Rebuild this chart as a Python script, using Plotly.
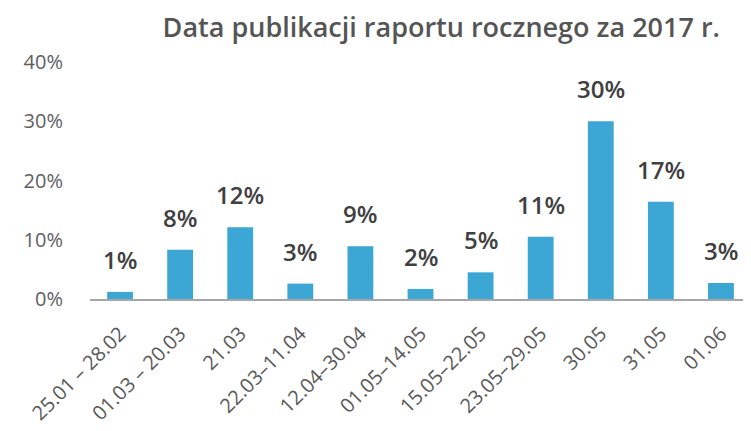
import plotly.graph_objects as go

categories = ["25.01 – 28.02", "01.03 – 20.03", "21.03", "22.03–11.04", "12.04–30.04",
              "01.05–14.05", "15.05–22.05", "23.05–29.05", "30.05", "31.05", "01.06"]
values = [1.2, 8.3, 12.1, 2.6, 8.9, 1.7, 4.5, 10.5, 30.0, 16.4, 2.7]
labels = ["1%", "8%", "12%", "3%", "9%", "2%", "5%", "11%", "30%", "17%", "3%"]
y_tickvals = [0, 10, 20, 30, 40]
y_ticktext = ["0%", "10%", "20%", "30%", "40%"]
title_text = "Data publikacji raportu rocznego za 2017 r."

FONT = "Open Sans"
W, H = 743, 423  # page has an 8px body margin

fig = go.Figure()
fig.add_trace(go.Bar(
    x=list(range(len(categories))), y=values,
    marker=dict(color="#3ca6d5", line=dict(width=0)),
    hoverinfo="skip",
))

for i, (v, t) in enumerate(zip(values, labels)):
    fig.add_annotation(x=i, y=v, text=t, showarrow=False, yanchor="bottom",
                       yshift=14, font=dict(family=FONT, size=24, color="#404040", weight=600))

fig.update_layout(
    width=W, height=H,
    margin=dict(l=82, r=0, t=54, b=132),
    paper_bgcolor="white", plot_bgcolor="white",
    showlegend=False,
    bargap=0.57,
    title=dict(text=title_text, xref="container", yref="container",
               x=712/W, xanchor="right", y=1-20/H, yanchor="middle",
               font=dict(family=FONT, size=27, color="#555555", weight=600)),
    xaxis=dict(range=[-0.5, 10.5], tickangle=-45,
               tickvals=list(range(len(categories))), ticktext=categories,
               showline=True, linecolor="#a6a6a6", linewidth=2,
               ticks="", showgrid=False, zeroline=False, automargin=False,
               ticklabelstandoff=13,
               tickfont=dict(family=FONT, size=20, color="#595959")),
    yaxis=dict(range=[0, 40], tickvals=y_tickvals, ticktext=y_ticktext,
               showgrid=False, zeroline=False, showline=False, ticks="",
               ticklabelstandoff=26, automargin=False,
               tickfont=dict(family=FONT, size=20, color="#606060")),
)

fig.write_html("out.html")
